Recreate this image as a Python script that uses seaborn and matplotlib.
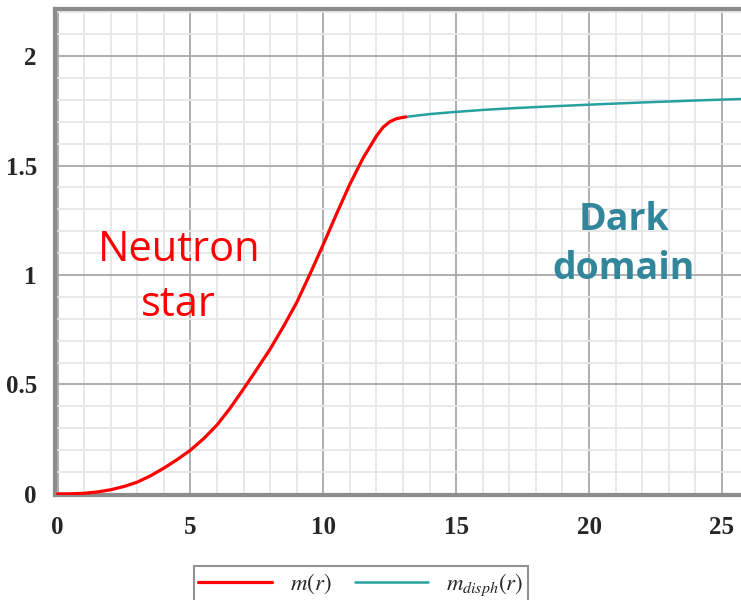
import numpy as np
import pandas as pd
import matplotlib
matplotlib.use("Agg")
import matplotlib.pyplot as plt
from matplotlib.ticker import MultipleLocator
import seaborn as sns

# Neutron star mass profile m(r)
r_ns = [0.0, 0.5, 1.0, 1.5, 2.0, 2.5, 3.0, 3.5, 4.0, 4.5, 5.0, 5.5, 6.0, 6.5,
        7.0, 7.5, 8.0, 8.5, 9.0, 9.5, 10.0, 10.5, 11.0, 11.5, 12.0, 12.25,
        12.5, 12.75, 13.0, 13.1]
m_ns = [0.0, 0.0005, 0.003, 0.009, 0.019, 0.034, 0.054, 0.083, 0.118, 0.157,
        0.2, 0.253, 0.315, 0.393, 0.48, 0.57, 0.662, 0.765, 0.875, 1.005,
        1.14, 1.28, 1.415, 1.535, 1.635, 1.675, 1.70, 1.714, 1.72, 1.722]

# Dark domain mass profile m_disph(r)
r_dd = [13.1, 14.0, 15.0, 16.0, 17.0, 18.0, 20.0, 22.0, 24.0, 26.0]
m_dd = [1.722, 1.735, 1.745, 1.754, 1.761, 1.767, 1.778, 1.788, 1.797, 1.805]

x_ticks = [0, 5, 10, 15, 20, 25]
y_ticks = [0, 0.5, 1, 1.5, 2]
y_ticklabels = ["0", "0.5", "1", "1.5", "2"]

sns.set_style("white")
plt.rcParams["mathtext.fontset"] = "stix"

fig = plt.figure(figsize=(7.41, 6.00), dpi=100)
ax = fig.add_axes([55 / 741, 105 / 600, 1 - 55 / 741 + 0.01, 486 / 600])

df_ns = pd.DataFrame({"r": r_ns, "m": m_ns})
df_dd = pd.DataFrame({"r": r_dd, "m": m_dd})
red = "#ff0000"
teal = "#27a0a0"
sns.lineplot(data=df_ns, x="r", y="m", ax=ax, color=red, lw=2.3,
             sort=False, estimator=None, label=r"$m(r)$", zorder=4)
sns.lineplot(data=df_dd, x="r", y="m", ax=ax, color=teal, lw=1.8,
             sort=False, estimator=None, label=r"$m_{disph}(r)$", zorder=3)

ax.set_xlim(-0.1, 26.0)
ax.set_ylim(-0.005, 2.215)
ax.set_xlabel("")
ax.set_ylabel("")

ax.xaxis.set_major_locator(MultipleLocator(5))
ax.xaxis.set_minor_locator(MultipleLocator(1))
ax.yaxis.set_major_locator(MultipleLocator(0.5))
ax.yaxis.set_minor_locator(MultipleLocator(0.1))
ax.set_xticks(x_ticks)
ax.set_yticks(y_ticks)
ax.set_yticklabels(y_ticklabels)

ax.grid(which="minor", color="#e6e6e6", lw=1.3, zorder=0)
ax.grid(which="major", color="#a8a8a8", lw=1.3, zorder=1)
ax.set_axisbelow(True)

for s in ["left", "bottom", "top", "right"]:
    ax.spines[s].set_color("#8c8c8c")
    ax.spines[s].set_linewidth(3.0)

ax.tick_params(which="both", direction="out", color="#8c8c8c")
ax.tick_params(which="major", length=4, width=1.2, pad=9)
ax.tick_params(which="minor", length=3, width=1.0)
ax.tick_params(axis="x", which="major", pad=11)
for lab in ax.get_xticklabels() + ax.get_yticklabels():
    lab.set_fontfamily("Liberation Serif")
    lab.set_fontweight("bold")
    lab.set_fontsize(18)

ax.text(4.56, 0.99, "Neutron\nstar", color=red, fontsize=30,
        family="Open Sans", ha="center", va="center", linespacing=1.4)
ax.text(21.3, 1.14, "Dark\ndomain", color="#31869b", fontsize=27,
        family="Open Sans", fontweight="bold", ha="center", va="center",
        linespacing=1.4)

ax.get_legend().remove()
h, l = ax.get_legend_handles_labels()
leg = fig.legend(h, l, loc="upper center", bbox_to_anchor=(361 / 741, 1 - 555 / 600),
                 ncol=2, frameon=True, fancybox=False, fontsize=16.5,
                 handlelength=3.2, columnspacing=1.0, handletextpad=0.8,
                 borderpad=0.2)
leg.get_frame().set_edgecolor("#777777")
leg.get_frame().set_linewidth(1.5)

fig.savefig("out.png", dpi=100)
